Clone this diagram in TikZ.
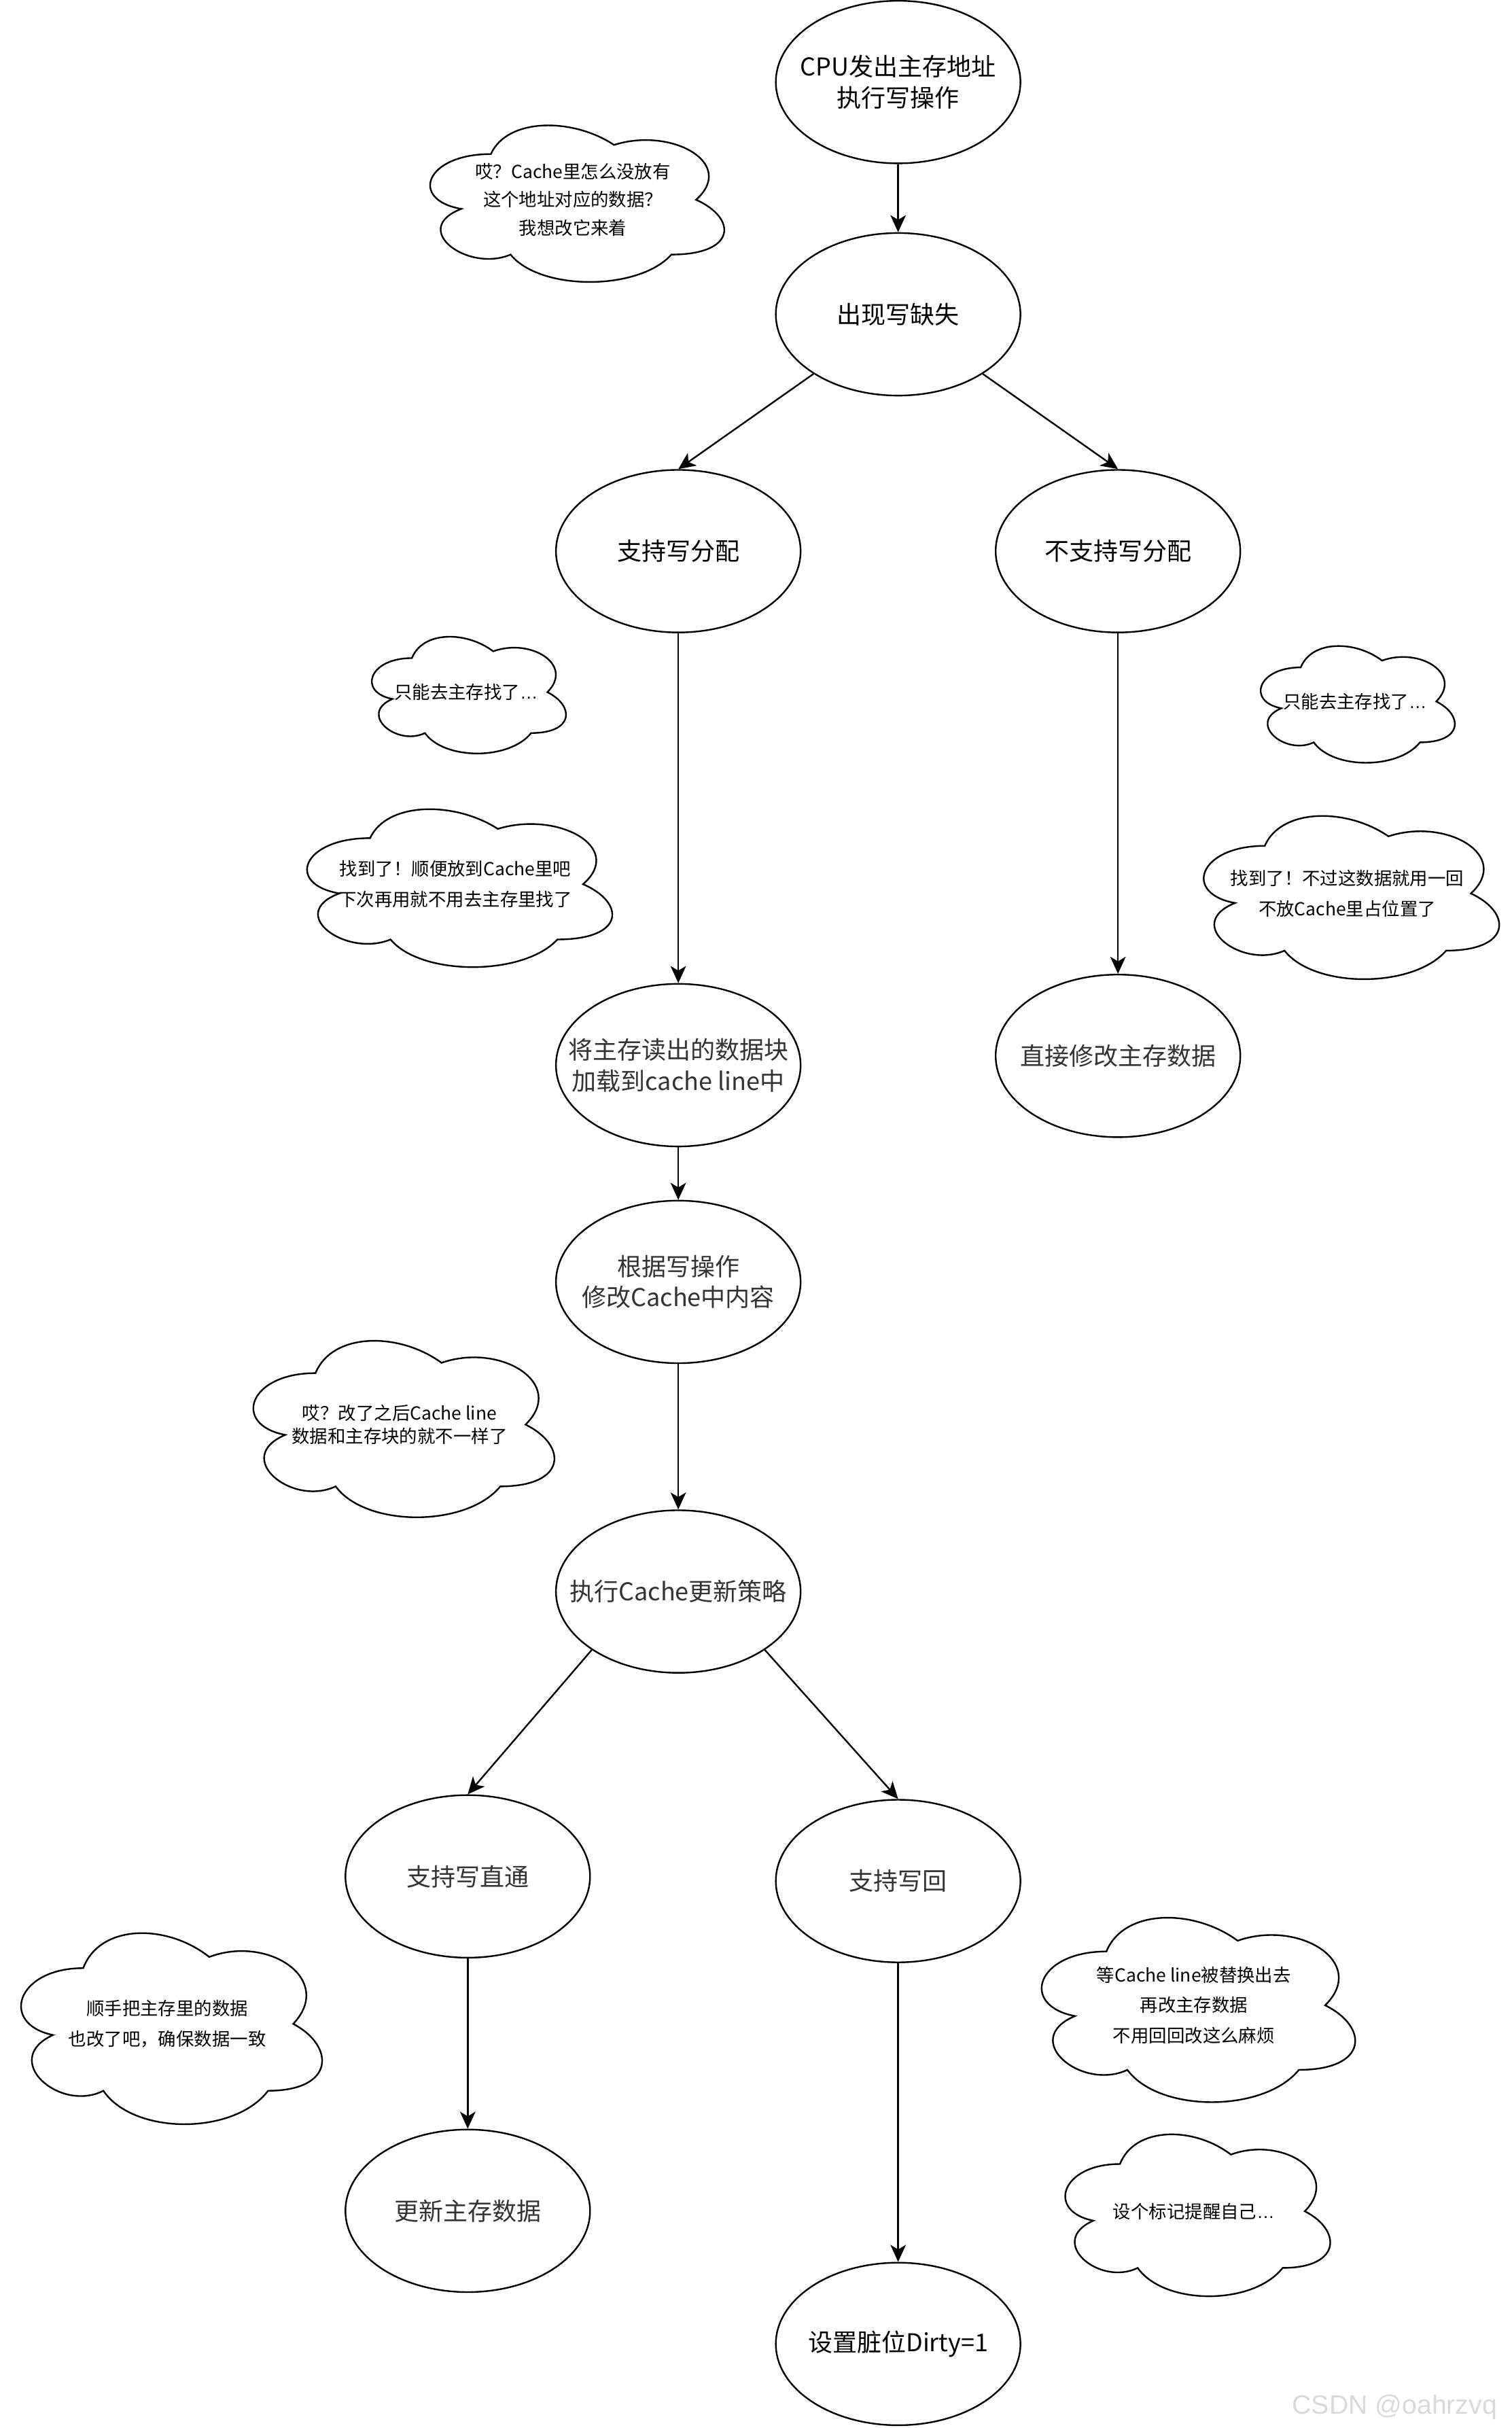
\documentclass[tikz,border=0pt]{standalone}
\usepackage{fontspec}
\setmainfont{Noto Sans CJK SC}
\newfontfamily\latinfont{Liberation Sans}
\usepackage{xcolor}
\usepackage{tikz}
\usetikzlibrary{shapes.geometric, arrows.meta, positioning}

\definecolor{ink}{HTML}{333333}

% thought cloud: [node opts]{name}{centre x}{centre y}{width}{height}{text}
\newcommand{\thought}[7][]{%
  \begin{scope}[shift={(#3-#5/2,#4-#6/2)}, xscale=#5, yscale=#6]
    \draw[bubble] (0.25,0.25) .. controls (0.05,0.25) and (0,0.5) .. (0.16,0.55)
      .. controls (0,0.66) and (0.18,0.9) .. (0.31,0.8)
      .. controls (0.4,1) and (0.7,1) .. (0.8,0.8)
      .. controls (1,0.8) and (1,0.6) .. (0.875,0.5)
      .. controls (1,0.3) and (0.8,0.1) .. (0.625,0.2)
      .. controls (0.5,0.05) and (0.3,0.05) .. (0.25,0.25) -- cycle;
  \end{scope}
  \node[remark, #1] (#2) at (#3,#4) {#7};
}

\begin{document}
\begin{tikzpicture}[x=0.02cm, y=-0.02cm, node distance=3cm, on grid,
    stage/.style={ellipse, draw, fill=white, line width=0.6pt, minimum width=3.16cm,
      minimum height=2.1cm, inner xsep=-14pt, inner ysep=0pt, align=center,
      font=\fontsize{9}{11.4}\selectfont},
    soft/.style={text=ink},
    bubble/.style={draw, fill=white, line width=0.6pt},
    remark/.style={align=center, inner sep=0pt, font=\fontsize{6.6}{11.1}\selectfont},
    flow/.style={-{Stealth[length=2.2mm, width=2mm, inset=0.6mm]}, line width=0.6pt}]
        \useasboundingbox (0,0) rectangle (976,1568);

        \node[stage] (cpu) at (580,53) {CPU发出主存地址\\执行写操作};
        \node[stage] (miss) [below=3cm of cpu] {出现写缺失};
        \node[stage] (alloc) [below left=3.06cm and 2.84cm of miss] {支持写分配};
        \node[stage] (noalloc) [below right=3.06cm and 2.84cm of miss] {不支持写分配};
        \node[stage, soft] (load) [below=6.64cm of alloc] {将主存读出的数据块\\加载到cache line中};
        \node[stage, soft] (direct) [below=6.52cm of noalloc] {直接修改主存数据};
        \node[stage, soft] (modify) [below=2.8cm of load] {根据写操作\\修改Cache中内容};
        \node[stage, soft] (policy) [below=4cm of modify] {执行Cache更新策略};
        \node[stage, soft] (wthrough) [below left=3.68cm and 2.72cm of policy] {支持写直通};
        \node[stage, soft] (wback) [below right=3.74cm and 2.84cm of policy] {支持写回};
        \node[stage, soft] (updmem) [below=4.32cm of wthrough] {更新主存数据};
        \node[stage] (dirty) [below=5.98cm of wback] {设置脏位Dirty=1};

        \path[flow]
        (cpu) edge (miss)
        (miss) edge (alloc.north)
        (miss) edge (noalloc.north)
        (alloc) edge (load)
        (noalloc) edge (direct)
        (load) edge (modify)
        (modify) edge (policy)
        (policy.214) edge (wthrough.north)
        (policy.326) edge (wback.north)
        (wthrough) edge (updmem)
        (wback) edge (dirty);

        % the inner voice
        \thought[font=\fontsize{6.6}{10.4}\selectfont]{qmiss}{370}{129}{212}{118}{哎？Cache里怎么没放有\\这个地址对应的数据？\\我想改它来着}
        \thought{lookl}{301}{447}{140}{88}{只能去主存找了{\latinfont …}}
        \thought{found}{294}{571}{220}{119}{找到了！顺便放到Cache里吧\\下次再用就不用去主存里找了}
        \thought{lookr}{875}{453}{140}{88}{只能去主存找了{\latinfont …}}
        \thought{bypass}{870}{577}{213}{123}{找到了！不过这数据就用一回\\不放Cache里占位置了}
        \thought[font=\fontsize{6.6}{8.3}\selectfont]{stale}{258}{920}{217}{133}{哎？改了之后Cache line\\数据和主存块的就不一样了}
        \thought{sync}{108}{1307}{217}{144}{顺手把主存里的数据\\也改了吧，确保数据一致}
        \thought{later}{771}{1295}{226}{139}{等Cache line被替换出去\\再改主存数据\\不用回回改这么麻烦}
        \thought{flag}{771}{1428}{191}{122}{设个标记提醒自己{\latinfont …}}

        \node[anchor=base east, text=gray!30, font=\latinfont\fontsize{9.8}{11}\selectfont] (mark) at (973,1559) {CSDN @oahrzvq};
    \end{tikzpicture}
\end{document}
